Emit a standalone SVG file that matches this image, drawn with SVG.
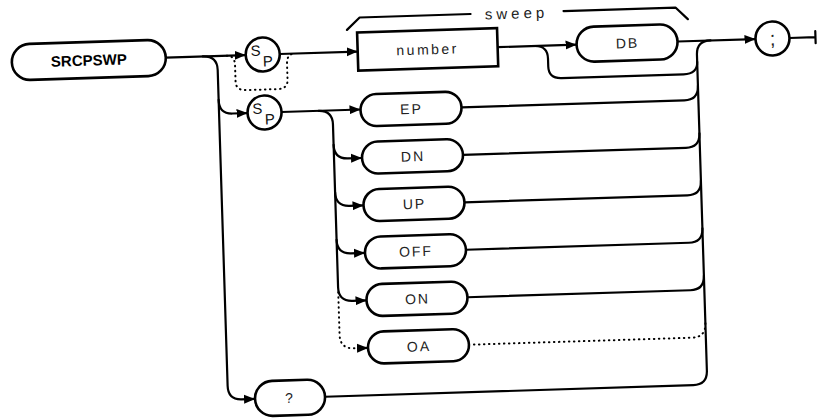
<svg xmlns="http://www.w3.org/2000/svg" width="820" height="418" viewBox="0 0 820 418">
  <defs>
    <marker id="arr" markerUnits="userSpaceOnUse" markerWidth="12" markerHeight="10" refX="11" refY="5" orient="auto">
      <path d="M0,0.5 L11,5 L0,9.5 z" fill="#000"/>
    </marker>
    <style>
      .ln { fill: none; stroke: #000; stroke-width: 2.2; stroke-linecap: round; stroke-linejoin: round; }
      .dot { fill: none; stroke: #000; stroke-width: 2; stroke-linecap: round; stroke-dasharray: 0.5 4.5; }
      .box { fill: #fff; stroke: #000; stroke-width: 2.6; }
      .t { font-family: "Liberation Sans", Arial, sans-serif; font-size: 14px; fill: #222; text-anchor: middle; letter-spacing: 2px; }
      .tb { font-family: "Liberation Sans", Arial, sans-serif; font-size: 15px; font-weight: bold; fill: #000; text-anchor: middle; }
      .sp { font-family: "Liberation Sans", Arial, sans-serif; font-size: 15px; fill: #111; text-anchor: middle; }
    </style>
  </defs>
  <rect width="820" height="418" fill="#fff"/>
  <g transform="rotate(-1.8 410 220)">
    <g id="connectors">
      <path class="ln" d="M171 50 H251" marker-end="url(#arr)"/>
      <path class="dot" d="M232 50 Q240 50 240 60 V76 Q240 85 250 85 H282 Q292 85 292 76 V60 Q292 50 300 50"/>
      <path class="ln" d="M285 50 H363" marker-end="url(#arr)"/>
      <path class="ln" d="M208 50 Q222.5 50 222.5 64 V380 Q222.5 394 236 394 H249.5" marker-end="url(#arr)"/>
      <path class="ln" d="M222.5 94 Q222.5 108 236 108 H251" marker-end="url(#arr)"/>
      <path class="ln" d="M285 108 H364" marker-end="url(#arr)"/>
      <path class="ln" d="M322 108 Q336 108 336 122 V285 Q336 299 350 299 H364" marker-end="url(#arr)"/>
      <path class="ln" d="M336 142.5 Q336 156.5 350 156.5 H364" marker-end="url(#arr)"/>
      <path class="ln" d="M336 190 Q336 204 350 204 H364" marker-end="url(#arr)"/>
      <path class="ln" d="M336 237.5 Q336 251.5 350 251.5 H364" marker-end="url(#arr)"/>
      <path class="dot" d="M336 290 V332.5 Q336 346.5 350 346.5 H356"/>
      <path class="ln" d="M356 346.5 H364" marker-end="url(#arr)"/>
      <path class="ln" d="M503 50 H582" marker-end="url(#arr)"/>
      <path class="ln" d="M540 50 Q553 50 553 63 V71 Q553 83 566 83 H688 Q702 83 702 71"/>
      <path class="ln" d="M683 50 H761" marker-end="url(#arr)"/>
      <path class="ln" d="M319.5 394 H688 Q702 394 702 380 V64 Q702 50 716 50"/>
      <path class="ln" d="M465 109 H688 Q702 109 702 95"/>
      <path class="ln" d="M465 156.5 H688 Q702 156.5 702 142.5"/>
      <path class="ln" d="M465 204 H688 Q702 204 702 190"/>
      <path class="ln" d="M465 251.5 H688 Q702 251.5 702 237.5"/>
      <path class="ln" d="M465 299 H688 Q702 299 702 285"/>
      <path class="dot" d="M470 346.5 H688 Q702 346.5 702 332.5"/>
      <path class="ln" d="M795 50 H821 M821 44 V56"/>
      <path class="ln" d="M353 28 L366 16 H477 M570 16 H682 L694 28"/>
    </g>
    <text class="t" x="523" y="22" style="font-size:15px;letter-spacing:4px">sweep</text>
    <g id="SRCPSWP">
      <rect class="box" x="17" y="32" width="154" height="36" rx="18"/>
      <text class="tb" x="94" y="55.5">SRCPSWP</text>
    </g>
    <g id="SP1">
      <circle class="box" cx="268" cy="50" r="17"/>
      <text class="sp" x="261" y="51">S</text>
      <text class="sp" x="273" y="62">P</text>
    </g>
    <g id="SP2">
      <circle class="box" cx="268" cy="108" r="17"/>
      <text class="sp" x="261" y="109">S</text>
      <text class="sp" x="273" y="120">P</text>
    </g>
    <g id="number">
      <rect class="box" x="363" y="31" width="140" height="38"/>
      <text class="t" x="433" y="55" style="letter-spacing:2.5px">number</text>
    </g>
    <g id="DB">
      <rect class="box" x="582" y="32.5" width="101" height="35" rx="17.5"/>
      <text class="t" x="633" y="55">DB</text>
    </g>
    <g id="semicolon">
      <circle class="box" cx="778" cy="50" r="17"/>
      <text class="t" x="778" y="57" style="font-size:20px;letter-spacing:0">;</text>
    </g>
    <g id="EP">
      <rect class="box" x="364" y="93" width="101" height="32" rx="16"/>
      <text class="t" x="415" y="114">EP</text>
    </g>
    <g id="DN">
      <rect class="box" x="364" y="140.5" width="101" height="32" rx="16"/>
      <text class="t" x="415" y="161.5">DN</text>
    </g>
    <g id="UP">
      <rect class="box" x="364" y="188" width="101" height="32" rx="16"/>
      <text class="t" x="415" y="209">UP</text>
    </g>
    <g id="OFF">
      <rect class="box" x="364" y="235.5" width="101" height="32" rx="16"/>
      <text class="t" x="415" y="256.5">OFF</text>
    </g>
    <g id="ON">
      <rect class="box" x="364" y="283" width="101" height="32" rx="16"/>
      <text class="t" x="415" y="304">ON</text>
    </g>
    <g id="OA">
      <rect class="box" x="364" y="330.5" width="101" height="32" rx="16"/>
      <text class="t" x="415" y="351.5">OA</text>
    </g>
    <g id="query">
      <rect class="box" x="249.5" y="376.5" width="70" height="35" rx="17.5"/>
      <text class="t" x="284.5" y="399">?</text>
    </g>
  </g>
</svg>
